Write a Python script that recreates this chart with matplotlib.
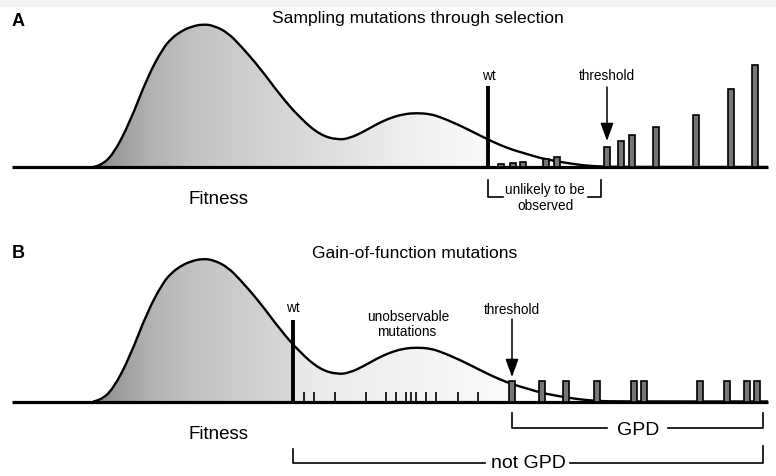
import numpy as np
import matplotlib
matplotlib.use('Agg')
import matplotlib.pyplot as plt
from matplotlib.path import Path
from matplotlib.patches import PathPatch, Rectangle
from matplotlib.colors import LinearSegmentedColormap

plt.rcParams['font.family'] = ['Liberation Sans', 'DejaVu Sans']

# fitness density (position, height above baseline), same shape in both panels
curve_x = [93, 100, 113, 130, 147, 163, 172, 180, 190, 203, 215, 228, 240,
           260, 280, 300, 320, 338, 350, 363, 377, 390, 404, 417, 430, 440,
           452, 463, 475, 487, 500, 513, 527, 540, 555, 570, 585, 600, 615,
           768]
curve_h = [0, 1, 12, 45, 89, 119, 129, 135, 140, 143, 141, 134, 122,
           99, 72, 49, 32, 27, 29, 35, 43, 49, 53, 54, 53, 50,
           45, 40, 34, 28, 22, 17, 13, 9, 6, 3.5, 1.5, 0.5, 0,
           0]

# panel A: sampled mutations
a_bar_x = [501, 513, 523, 546, 557, 607, 621, 632, 656, 696, 731, 755]
a_bar_h = [3.5, 4, 5, 8.5, 10.5, 20, 26, 32, 40, 52, 78, 102]
a_wt = 488
a_threshold = 607

# panel B: gain-of-function mutations
b_tick_x = [304, 314, 335, 366, 386, 396, 406, 411, 416, 426, 436, 458, 478]
b_bar_x = [512, 542, 566, 597, 634, 644, 700, 727, 747, 757]
b_bar_h = [21] * len(b_bar_x)
b_wt = 293
b_threshold = 512

# gradient shading of the area under the curve (position, grey level)
shade_x = [93, 150, 200, 250, 300, 350, 400, 450, 488]
shade_grey = [0.55, 0.70, 0.77, 0.81, 0.85, 0.89, 0.93, 0.96, 0.98]

x_left, x_right = 12, 768


def curve_path(base):
    ys = [base - h for h in curve_h]
    verts = [(curve_x[0], ys[0])]
    codes = [Path.MOVETO]
    for i in range(1, len(curve_x) - 1):
        mx = (curve_x[i] + curve_x[i + 1]) / 2
        my = (ys[i] + ys[i + 1]) / 2
        verts += [(curve_x[i], ys[i]), (mx, my)]
        codes += [Path.CURVE3, Path.CURVE3]
    verts.append((curve_x[-1], ys[-1]))
    codes.append(Path.LINETO)
    return verts, codes


def shade(ax, base, x0, x1, cmap, vmin, vmax):
    verts, codes = curve_path(base)
    verts = verts + [(curve_x[0], base), (curve_x[0], base)]
    codes = codes + [Path.LINETO, Path.CLOSEPOLY]
    clip = PathPatch(Path(verts, codes), facecolor='none', edgecolor='none')
    ax.add_patch(clip)
    xs = np.linspace(x0, x1, 300).reshape(1, -1)
    im = ax.imshow(xs, extent=(x0, x1, base, base - 160), cmap=cmap,
                   vmin=vmin, vmax=vmax, aspect='auto', zorder=1,
                   interpolation='bilinear')
    im.set_clip_path(clip)


def draw_curve(ax, base):
    verts, codes = curve_path(base)
    ax.add_patch(PathPatch(Path(verts, codes), facecolor='none',
                           edgecolor='black', lw=1.7, zorder=3))
    ax.plot([x_left, x_right], [base, base], color='black', lw=2.3,
            solid_capstyle='butt', zorder=4)


def bars(ax, base, xs, hs):
    ax.bar(xs, [-h for h in hs], bottom=base, width=6.5, color='#777777',
           edgecolor='black', linewidth=1.2, zorder=5)


def arrow(ax, x, y0, y1):
    ax.annotate('', xy=(x, y1), xytext=(x, y0), zorder=6,
                arrowprops=dict(arrowstyle='-|>,head_length=1.1,head_width=0.4',
                                mutation_scale=10, lw=1.1, color='black',
                                shrinkA=0, shrinkB=0))


fig = plt.figure(figsize=(7.76, 4.76), dpi=100)
ax = fig.add_axes([0, 0, 1, 1])
ax.axis('off')

ax.add_patch(Rectangle((0, 0), 776, 7, color='#f3f3f3', lw=0, zorder=0))

norm_min, norm_max = shade_x[0], shade_x[-1]
shade_cmap = LinearSegmentedColormap.from_list(
    'shade', [((x - norm_min) / (norm_max - norm_min), (g, g, g))
              for x, g in zip(shade_x, shade_grey)])
light_cmap = LinearSegmentedColormap.from_list(
    'light', [(0.91, 0.91, 0.91), (0.985, 0.985, 0.985)])

small = 9.8

# ---- panel A ----
base_a = 167
shade(ax, base_a, shade_x[0], a_wt, shade_cmap, norm_min, norm_max)
draw_curve(ax, base_a)
bars(ax, base_a, a_bar_x, a_bar_h)
ax.plot([a_wt, a_wt], [base_a, 86], color='black', lw=2.8,
        solid_capstyle='butt', zorder=5)
ax.text(a_wt + 1, 80, 'wt', ha='center', va='baseline', fontsize=small)
ax.text(a_threshold, 80, 'threshold', ha='center', va='baseline', fontsize=small)
arrow(ax, a_threshold, 87, 141)

ax.plot([a_wt, a_wt, 503], [180, 197, 197], color='black', lw=1.2)
ax.plot([588, 601, 601], [197, 197, 180], color='black', lw=1.2)
ax.text(545, 194, 'unlikely to be', ha='center', va='baseline', fontsize=small)
ax.text(545, 210, 'observed', ha='center', va='baseline', fontsize=small)

ax.text(218, 204, 'Fitness', ha='center', va='baseline', fontsize=13.5)
ax.text(12, 26, 'A', ha='left', va='baseline', fontsize=13, fontweight='bold')
ax.text(418, 23.5, 'Sampling mutations through selection', ha='center',
        va='baseline', fontsize=12.6)

# ---- panel B ----
base_b = 401.5
shade(ax, base_b, shade_x[0], b_wt, shade_cmap, norm_min, norm_max)
shade(ax, base_b, b_wt, b_threshold, light_cmap, b_wt, b_threshold)
draw_curve(ax, base_b)
ax.vlines(b_tick_x, base_b - 10, base_b, color='black', lw=1.2, zorder=4)
bars(ax, base_b, b_bar_x, b_bar_h)
ax.plot([b_wt, b_wt], [base_b, 320], color='black', lw=2.8,
        solid_capstyle='butt', zorder=5)
ax.text(b_wt, 312, 'wt', ha='center', va='baseline', fontsize=small)
ax.text(b_threshold, 314, 'threshold', ha='center', va='baseline', fontsize=small)
arrow(ax, b_threshold, 319, 377)
ax.text(408, 321, 'unobservable', ha='center', va='baseline', fontsize=small)
ax.text(407, 336, 'mutations', ha='center', va='baseline', fontsize=small)

ax.plot([b_threshold, b_threshold, 607], [413, 428, 428], color='black', lw=1.2)
ax.plot([668, 763, 763], [428, 428, 413], color='black', lw=1.2)
ax.text(638, 435, 'GPD', ha='center', va='baseline', fontsize=14)
ax.plot([b_wt, b_wt, 485], [449, 463, 463], color='black', lw=1.2)
ax.plot([570, 763, 763], [463, 463, 446], color='black', lw=1.2)
ax.text(528, 468, 'not GPD', ha='center', va='baseline', fontsize=14)

ax.text(218, 439, 'Fitness', ha='center', va='baseline', fontsize=13.5)
ax.text(12, 258, 'B', ha='left', va='baseline', fontsize=13, fontweight='bold')
ax.text(415, 258, 'Gain-of-function mutations', ha='center',
        va='baseline', fontsize=12.6)

ax.set_xlim(0, 776)
ax.set_ylim(476, 0)
fig.savefig('out.png', dpi=100)
